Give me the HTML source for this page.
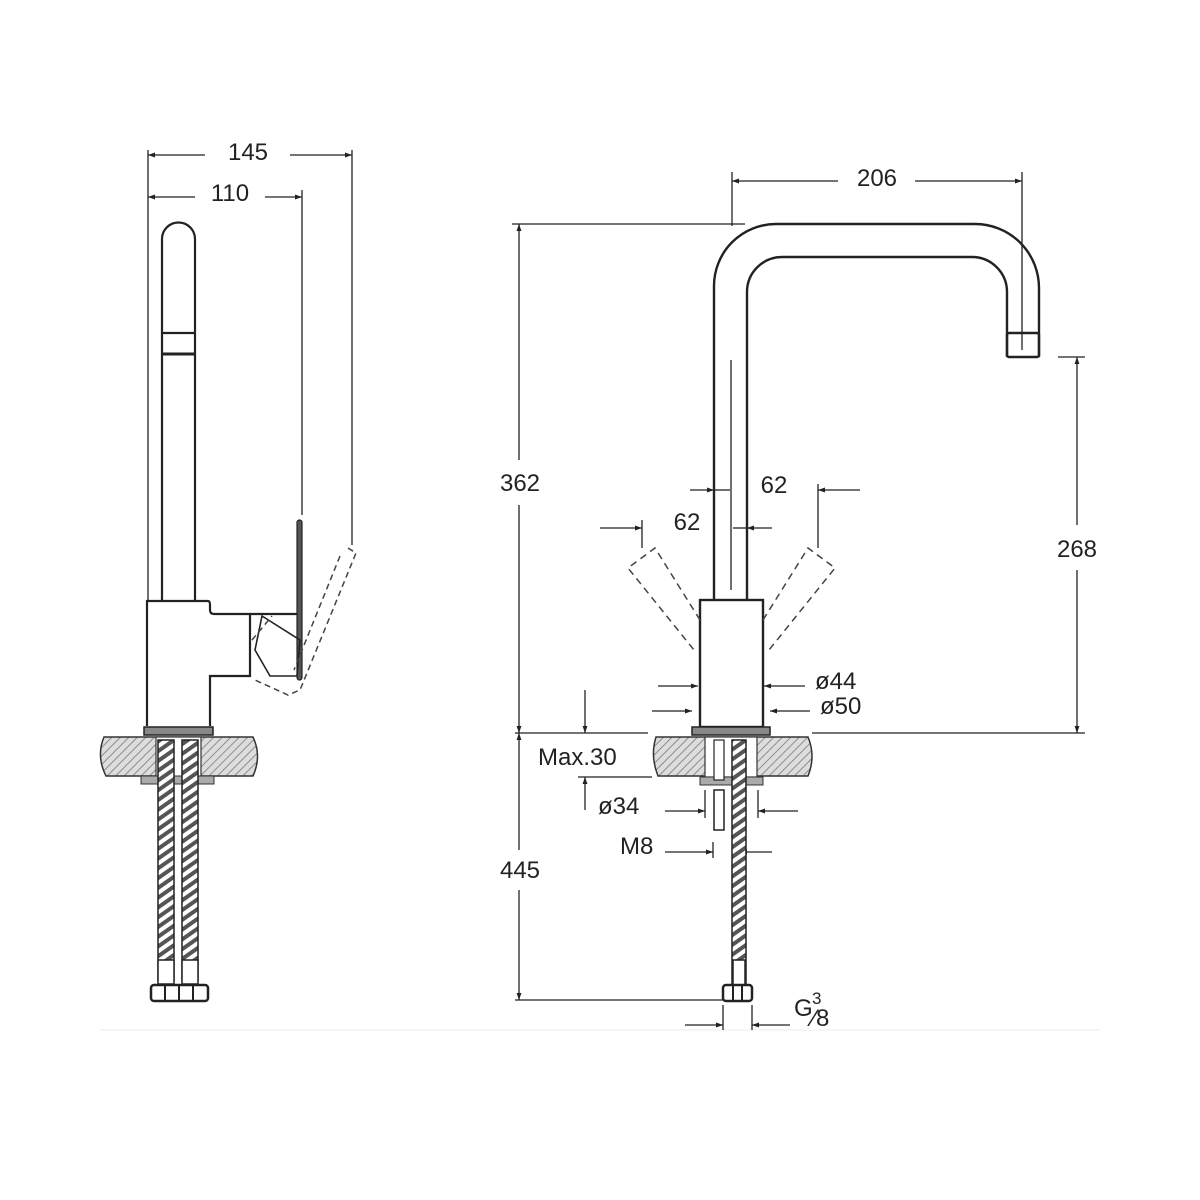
<!DOCTYPE html>
<html><head><style>html,body{margin:0;padding:0;background:#fff}svg{display:block}</style></head>
<body>
<svg width="1200" height="1200" viewBox="0 0 1200 1200" xmlns="http://www.w3.org/2000/svg" font-family="Liberation Sans, sans-serif">
<defs>
<pattern id="h" width="6" height="6" patternUnits="userSpaceOnUse" patternTransform="rotate(45)"><rect width="6" height="6" fill="#ddd"/><line x1="0" y1="0" x2="0" y2="6" stroke="#777" stroke-width="1.6"/></pattern>
<pattern id="r" width="8" height="8" patternUnits="userSpaceOnUse" patternTransform="rotate(-35)"><rect width="8" height="8" fill="#fff"/><rect x="0" y="0" width="8" height="4" fill="#555"/></pattern>
<marker id="a" viewBox="0 0 10 10" refX="10" refY="5" markerWidth="10" markerHeight="7" orient="auto-start-reverse" markerUnits="userSpaceOnUse"><path d="M0,1.5 L10,5 L0,8.5 z" fill="#222"/></marker>
</defs>
<g stroke="#222" fill="none" stroke-width="1.3">
<!-- LEFT VIEW dims -->
<line x1="148" y1="150" x2="148" y2="600"/>
<line x1="352" y1="150" x2="352" y2="545"/>
<line x1="302" y1="190" x2="302" y2="515"/>
<line x1="148" y1="155" x2="205" y2="155" marker-start="url(#a)"/>
<line x1="290" y1="155" x2="352" y2="155" marker-end="url(#a)"/>
<line x1="148" y1="197" x2="195" y2="197" marker-start="url(#a)"/>
<line x1="265" y1="197" x2="302" y2="197" marker-end="url(#a)"/>
</g>
<g stroke="#222" fill="none" stroke-width="2.2">
<path d="M162,600 V239 A16.5,16.5 0 0 1 195,239 V600"/>
<line x1="162" y1="333" x2="195" y2="333"/>
<line x1="162" y1="354" x2="195" y2="354" stroke-width="3"/>
<path d="M147,726 V601 H208 Q210,601 210,605 V610 Q210,614 214,614 H297"/>
<path d="M210,726 V676 H250 V614"/>
<rect x="297" y="520" width="5" height="160" rx="2.5" fill="#555" stroke-width="1.2"/>
<path d="M262,616 L300,640 L297,676 L270,676 L255,650 Z" stroke-width="1.6"/>
</g>
<g stroke="#444" fill="none" stroke-width="1.5" stroke-dasharray="6,4">
<path d="M348,548 L356,553 L300,690 L288,695 L255,680 M252,640 L272,616"/>
<path d="M340,556 L294,670"/>
</g>
<!-- left base -->
<rect x="144" y="727" width="69" height="8" fill="#888" stroke="#222" stroke-width="1.5"/>
<path d="M104,737 H253 Q262,756 253,776 H106 Q96,756 104,737 Z" fill="url(#h)" stroke="#333" stroke-width="1.5"/>
<rect x="156" y="737" width="45" height="40" fill="#fff" stroke="#333" stroke-width="1.2"/>
<rect x="141" y="776" width="73" height="8" fill="#aaa" stroke="#333" stroke-width="1"/>
<rect x="158" y="740" width="16" height="240" fill="url(#r)" stroke="#222" stroke-width="1.5"/>
<rect x="182" y="740" width="16" height="240" fill="url(#r)" stroke="#222" stroke-width="1.5"/>
<rect x="158" y="960" width="16" height="24" fill="#fff" stroke="#222" stroke-width="1.5"/>
<rect x="182" y="960" width="16" height="24" fill="#fff" stroke="#222" stroke-width="1.5"/>
<rect x="151" y="985" width="57" height="16" rx="3" fill="#fff" stroke="#222" stroke-width="2.5"/>
<g stroke="#222" stroke-width="2"><line x1="165" y1="985" x2="165" y2="1001"/><line x1="179" y1="985" x2="179" y2="1001"/><line x1="193" y1="985" x2="193" y2="1001"/></g>
<line x1="100" y1="1030" x2="1100" y2="1030" stroke="#eee" stroke-width="1"/>

<!-- RIGHT VIEW -->
<g stroke="#222" fill="none" stroke-width="1.3">
<line x1="732" y1="172" x2="732" y2="226"/>
<line x1="1022" y1="172" x2="1022" y2="350"/>
<line x1="732" y1="181" x2="838" y2="181" marker-start="url(#a)"/>
<line x1="915" y1="181" x2="1022" y2="181" marker-end="url(#a)"/>
<line x1="512" y1="224" x2="745" y2="224"/>
<line x1="519" y1="224" x2="519" y2="460" marker-start="url(#a)"/>
<line x1="519" y1="505" x2="519" y2="733" marker-end="url(#a)"/>
<line x1="515" y1="733" x2="648" y2="733"/>
<line x1="812" y1="733" x2="1085" y2="733"/>
<line x1="1058" y1="357" x2="1085" y2="357"/>
<line x1="1077" y1="357" x2="1077" y2="525" marker-start="url(#a)"/>
<line x1="1077" y1="570" x2="1077" y2="733" marker-end="url(#a)"/>
<line x1="519" y1="733" x2="519" y2="850" marker-start="url(#a)"/>
<line x1="519" y1="890" x2="519" y2="1000" marker-end="url(#a)"/>
<line x1="515" y1="1000" x2="725" y2="1000"/>
<line x1="731" y1="360" x2="731" y2="590"/>
<!-- 62 dims -->
<line x1="690" y1="490" x2="714" y2="490" marker-end="url(#a)"/>
<line x1="714" y1="490" x2="730" y2="490"/>
<line x1="733" y1="528" x2="747" y2="528"/>
<line x1="772" y1="528" x2="747" y2="528" marker-end="url(#a)"/>
<line x1="600" y1="528" x2="642" y2="528" marker-end="url(#a)"/>
<line x1="642" y1="520" x2="642" y2="548"/>
<line x1="860" y1="490" x2="818" y2="490" marker-end="url(#a)"/>
<line x1="818" y1="484" x2="818" y2="548"/>
<!-- ø44 / ø50 -->
<line x1="658" y1="686" x2="698" y2="686" marker-end="url(#a)"/>
<line x1="805" y1="686" x2="764" y2="686" marker-end="url(#a)"/>
<line x1="652" y1="711" x2="692" y2="711" marker-end="url(#a)"/>
<line x1="810" y1="711" x2="770" y2="711" marker-end="url(#a)"/>
<!-- max30 -->
<line x1="585" y1="690" x2="585" y2="733" marker-end="url(#a)"/>
<line x1="585" y1="810" x2="585" y2="777" marker-end="url(#a)"/>
<line x1="578" y1="777" x2="652" y2="777"/>
<!-- ø34 -->
<line x1="665" y1="811" x2="705" y2="811" marker-end="url(#a)"/>
<line x1="798" y1="811" x2="758" y2="811" marker-end="url(#a)"/>
<line x1="705" y1="790" x2="705" y2="818"/><line x1="758" y1="790" x2="758" y2="818"/>
<!-- M8 -->
<line x1="665" y1="852" x2="713" y2="852" marker-end="url(#a)"/>
<line x1="713" y1="842" x2="713" y2="858"/>
<line x1="772" y1="852" x2="740" y2="852" marker-end="url(#a)"/>
<!-- G3/8 -->
<line x1="685" y1="1025" x2="723" y2="1025" marker-end="url(#a)"/>
<line x1="790" y1="1025" x2="752" y2="1025" marker-end="url(#a)"/>
<line x1="723" y1="1005" x2="723" y2="1030"/><line x1="752" y1="1005" x2="752" y2="1030"/>
</g>
<g stroke="#222" fill="none" stroke-width="2.4">
<path d="M714,600 V286 A62,62 0 0 1 776,224 H975 A64,64 0 0 1 1039,288 V357"/>
<path d="M747,600 V292 A35,35 0 0 1 782,257 H972 A35,35 0 0 1 1007,292 V357"/>
<rect x="1007" y="333" width="32" height="24" rx="2"/>
<rect x="700" y="600" width="63" height="127"/>
</g>
<g stroke="#444" fill="none" stroke-width="1.5" stroke-dasharray="7,5">
<path d="M700,620 L655,548 L628,568 L694,650"/>
<path d="M763,620 L808,548 L835,568 L769,650"/>
</g>
<rect x="692" y="727" width="78" height="8" fill="#888" stroke="#222" stroke-width="1.5"/>
<path d="M656,737 H808 Q816,756 808,776 H658 Q650,756 656,737 Z" fill="url(#h)" stroke="#333" stroke-width="1.5"/>
<rect x="705" y="737" width="52" height="40" fill="#fff" stroke="#333" stroke-width="1.2"/>
<rect x="700" y="777" width="63" height="8" fill="#aaa" stroke="#333" stroke-width="1"/>
<rect x="732" y="740" width="14" height="245" fill="url(#r)" stroke="#222" stroke-width="1.5"/>
<rect x="714" y="740" width="10" height="40" fill="#fff" stroke="#222" stroke-width="1.2"/>
<rect x="714" y="790" width="10" height="40" fill="#fff" stroke="#222" stroke-width="1.5"/>
<rect x="733" y="960" width="12" height="25" fill="#fff" stroke="#222" stroke-width="1.5"/>
<rect x="723" y="985" width="29" height="16" rx="3" fill="#fff" stroke="#222" stroke-width="2.5"/>
<g stroke="#222" stroke-width="2"><line x1="733" y1="985" x2="733" y2="1001"/><line x1="742" y1="985" x2="742" y2="1001"/></g>

<g font-size="24" fill="#222">
<text x="248" y="160" text-anchor="middle">145</text>
<text x="230" y="201" text-anchor="middle">110</text>
<text x="877" y="186" text-anchor="middle">206</text>
<text x="520" y="491" text-anchor="middle">362</text>
<text x="1077" y="557" text-anchor="middle">268</text>
<text x="520" y="878" text-anchor="middle">445</text>
<text x="774" y="493" text-anchor="middle">62</text>
<text x="687" y="530" text-anchor="middle">62</text>
<text x="815" y="689">ø44</text>
<text x="820" y="714">ø50</text>
<text x="538" y="765">Max.30</text>
<text x="598" y="814">ø34</text>
<text x="620" y="854">M8</text>
<text x="794" y="1016">G</text>
<text x="812" y="1004" font-size="17">3</text>
<text x="812" y="1026">⁄8</text>
</g>
</svg>
</body></html>
